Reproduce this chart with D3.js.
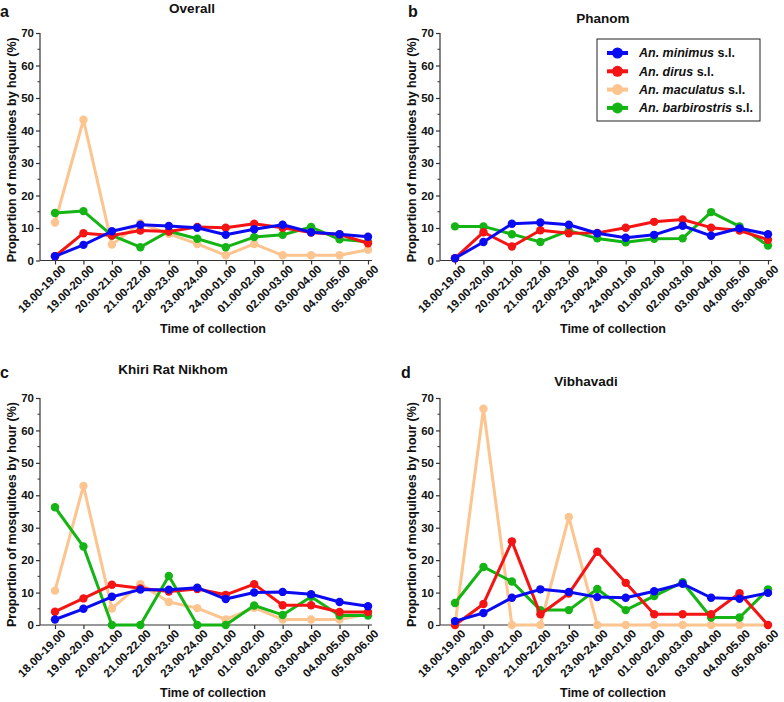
<!DOCTYPE html>
<html>
<head>
<meta charset="utf-8">
<script src="https://cdn.jsdelivr.net/npm/d3@7"></script>
<style>
  body { margin: 0; background: #fff; }
  svg { font-family: "Liberation Sans", Arial, sans-serif; }
  .tick text { font-weight: bold; font-size: 11.5px; fill: #111; }
  .domain, .tick line { stroke: #333; stroke-width: 1.2; }
</style>
</head>
<body>
<div id="chart"></div>
<script>
// ── Data ───────────────────────────────────────────────────────────────────
const hours = ["18.00-19.00", "19.00-20.00", "20.00-21.00", "21.00-22.00", "22.00-23.00", "23.00-24.00",
               "24.00-01.00", "01.00-02.00", "02.00-03.00", "03.00-04.00", "04.00-05.00", "05.00-06.00"];

const species = ["An. minimus", "An. dirus", "An. maculatus", "An. barbirostris"];

const overallMinimus = [1.3, 4.8, 9.0, 11.0, 10.6, 10.1, 7.9, 9.6, 11.0, 8.7, 8.1, 7.3];
const overallDirus   = [1.3, 8.4, 7.7, 9.2, 8.9, 10.3, 10.1, 11.3, 10.1, 8.6, 8.0, 5.3];
const overallMacul   = [11.7, 43.3, 4.9, 11.5, 8.2, 5.1, 1.6, 5.1, 1.6, 1.6, 1.6, 3.3];
const overallBarbi   = [14.6, 15.2, 7.7, 4.1, 9.0, 6.7, 4.1, 7.2, 7.9, 10.3, 6.5, 5.8];

const phanomMinimus = [0.7, 5.7, 11.3, 11.7, 11.0, 8.4, 7.0, 7.9, 10.7, 7.6, 9.9, 8.1];
const phanomDirus   = [0.7, 8.7, 4.3, 9.3, 8.4, 8.5, 10.1, 11.9, 12.6, 10.1, 9.2, 6.4];
const phanomBarbi   = [10.5, 10.5, 8.1, 5.7, 9.2, 6.8, 5.6, 6.7, 6.8, 14.9, 10.5, 4.6];

const khiriMinimus = [1.7, 5.0, 8.7, 10.9, 10.9, 11.5, 8.0, 10.0, 10.2, 9.5, 7.1, 5.8];
const khiriDirus   = [4.1, 8.2, 12.4, 11.3, 10.3, 11.1, 9.3, 12.6, 6.1, 6.1, 4.0, 4.0];
const khiriMacul   = [10.6, 42.9, 5.1, 12.6, 7.1, 5.2, 1.7, 5.3, 1.7, 1.7, 1.7, 3.4];
const khiriBarbi   = [36.3, 24.2, 0, 0, 15.1, 0, 0, 6.0, 3.1, 8.7, 2.9, 2.9];

const vibhaMinimus = [1.2, 3.7, 8.4, 11.0, 10.2, 8.6, 8.4, 10.4, 12.7, 8.4, 8.1, 9.9];
const vibhaDirus   = [0, 6.5, 25.8, 3.3, 9.7, 22.6, 13.0, 3.3, 3.3, 3.3, 9.8, 0];
const vibhaMacul   = [0, 66.7, 0, 0, 33.3, 0, 0, 0, 0, 0, 0, 0];
const vibhaBarbi   = [6.8, 17.9, 13.4, 4.6, 4.6, 11.1, 4.6, 8.9, 13.2, 2.3, 2.3, 11.0];

const yTicks = [0, 10, 20, 30, 40, 50, 60, 70];

// ── Colours ────────────────────────────────────────────────────────────────
const COLOR = {
  "An. minimus":      "#0b0bf2",
  "An. dirus":        "#f41414",
  "An. maculatus":    "#fcc48e",
  "An. barbirostris": "#14b414",
};

// draw order: peach underneath, blue on top
const panels = [
  { letter: "a", title: "Overall",          titleX: 152, titleY: 13,  letterX: 0,   letterY: 17,
    series: { "An. maculatus": overallMacul, "An. barbirostris": overallBarbi, "An. dirus": overallDirus, "An. minimus": overallMinimus } },
  { letter: "b", title: "Phanom",           titleX: 163, titleY: 23,  letterX: 408, letterY: 17,
    series: { "An. barbirostris": phanomBarbi, "An. dirus": phanomDirus, "An. minimus": phanomMinimus }, legend: true },
  { letter: "c", title: "Khiri Rat Nikhom", titleX: 133, titleY: 374, letterX: 0,   letterY: 378,
    series: { "An. maculatus": khiriMacul, "An. barbirostris": khiriBarbi, "An. dirus": khiriDirus, "An. minimus": khiriMinimus } },
  { letter: "d", title: "Vibhavadi",        titleX: 146, titleY: 386, letterX: 401, letterY: 378,
    series: { "An. maculatus": vibhaMacul, "An. barbirostris": vibhaBarbi, "An. dirus": vibhaDirus, "An. minimus": vibhaMinimus } },
];

// ── Layout ─────────────────────────────────────────────────────────────────
const width = 784, height = 702;

const svg = d3.select("#chart").append("svg")
  .attr("width", width)
  .attr("height", height);

const panelPos = [
  { ax: 40,  top: 33,  bottom: 260.5 },
  { ax: 440, top: 33,  bottom: 260.5 },
  { ax: 40,  top: 398, bottom: 625 },
  { ax: 440, top: 398, bottom: 625 },
];

panels.forEach((p, pi) => {
  const pos = panelPos[pi];
  const g = svg.append("g");

  const x = d3.scalePoint().domain(hours)
    .range([pos.ax + 15, pos.ax + 328]);
  const y = d3.scaleLinear().domain([0, 70]).range([pos.bottom, pos.top]);

  // y axis with minor ticks
  const yAxis = g.append("g")
    .attr("transform", `translate(${pos.ax},0)`)
    .call(d3.axisLeft(y).tickValues(yTicks).tickSize(4).tickPadding(2));
  yAxis.select(".domain").attr("d", `M0,${pos.top}V${pos.bottom}`);
  g.append("g")
    .attr("transform", `translate(${pos.ax},0)`)
    .selectAll("line")
    .data(d3.range(5, 70, 10))
    .join("line")
    .attr("x1", -2.5).attr("x2", 0)
    .attr("y1", d => y(d)).attr("y2", d => y(d))
    .attr("stroke", "#333").attr("stroke-width", 1);

  // x axis
  const xAxis = g.append("g")
    .attr("transform", `translate(0,${pos.bottom})`)
    .call(d3.axisBottom(x).tickSize(4).tickPadding(2));
  xAxis.select(".domain").attr("d", `M${pos.ax},0H${pos.ax + 332}`);
  xAxis.selectAll("text")
    .attr("text-anchor", "end")
    .attr("dx", "0.2em")
    .attr("dy", "0.6em")
    .attr("transform", "translate(0,2) rotate(-45)");

  // axis titles
  g.append("text")
    .attr("transform", `translate(${pos.ax - 24},${(pos.top + pos.bottom) / 2 + 3}) rotate(-90)`)
    .attr("text-anchor", "middle")
    .attr("font-size", 12.5).attr("font-weight", "bold").attr("fill", "#111")
    .text("Proportion of mosquitoes by hour (%)");
  g.append("text")
    .attr("x", pos.ax + 173).attr("y", pos.bottom + 72)
    .attr("text-anchor", "middle")
    .attr("font-size", 12.5).attr("font-weight", "bold").attr("fill", "#111")
    .text("Time of collection");

  // title and letter
  g.append("text")
    .attr("x", pos.ax + p.titleX).attr("y", p.titleY)
    .attr("text-anchor", "middle")
    .attr("font-size", 13.5).attr("font-weight", "bold").attr("fill", "#111")
    .text(p.title);
  g.append("text")
    .attr("x", p.letterX).attr("y", p.letterY)
    .attr("font-size", 16).attr("font-weight", "bold").attr("fill", "#111")
    .text(p.letter);

  // series
  const line = d3.line().x((d, i) => x(hours[i])).y(d => y(d));
  Object.entries(p.series).forEach(([name, vals]) => {
    g.append("path")
      .datum(vals)
      .attr("d", line)
      .attr("fill", "none")
      .attr("stroke", COLOR[name])
      .attr("stroke-width", 3)
      .attr("stroke-linejoin", "round");
    g.selectAll(null)
      .data(vals)
      .join("circle")
      .attr("cx", (d, i) => x(hours[i]))
      .attr("cy", d => y(d))
      .attr("r", 4.2)
      .attr("fill", COLOR[name]);
  });

  // legend
  if (p.legend) {
    const lg = g.append("g").attr("transform", "translate(597,39)");
    lg.append("rect")
      .attr("width", 163).attr("height", 82)
      .attr("fill", "#fff").attr("stroke", "#222").attr("stroke-width", 1);
    species.forEach((s, i) => {
      const row = lg.append("g").attr("transform", `translate(0,${14 + i * 18.3})`);
      row.append("line")
        .attr("x1", 10).attr("x2", 31)
        .attr("stroke", COLOR[s]).attr("stroke-width", 4);
      row.append("circle").attr("cx", 20.5).attr("r", 5.5).attr("fill", COLOR[s]);
      const t = row.append("text")
        .attr("x", 42).attr("dy", "0.35em")
        .attr("font-size", 12.5).attr("font-weight", "bold").attr("fill", "#111");
      t.append("tspan").attr("font-style", "italic").text(s);
      t.append("tspan").text(" s.l.");
    });
  }
});
</script>
</body>
</html>
